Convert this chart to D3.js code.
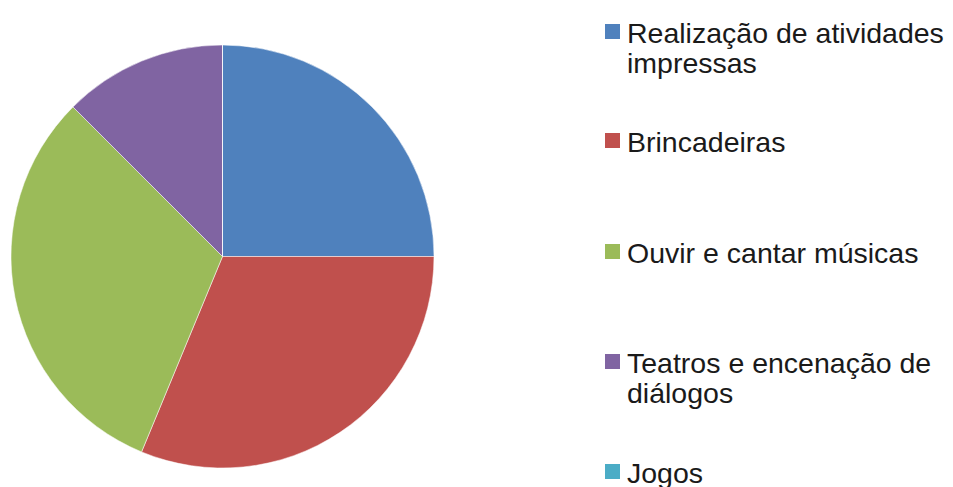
<!DOCTYPE html>
<html><head><meta charset="utf-8">
<script src="https://cdn.jsdelivr.net/npm/d3@7/dist/d3.min.js"></script>
<style>html,body{margin:0;padding:0;background:#fff;}</style>
</head><body>
<svg id="c" width="953" height="487"></svg>
<script>
const categories = ["Realização de atividades impressas", "Brincadeiras", "Ouvir e cantar músicas", "Teatros e encenação de diálogos", "Jogos"];
const legendLines = [["Realização de atividades", "impressas"], ["Brincadeiras"], ["Ouvir e cantar músicas"], ["Teatros e encenação de", "diálogos"], ["Jogos"]];
const values = [8, 10, 10, 4, 0];
const colors = ["#4F81BD", "#C0504D", "#9BBB59", "#8064A2", "#4BACC6"];

const svg = d3.select("#c");
const cx = 222.5, cy = 256.5, r = 211.5;
const pie = d3.pie().sort(null).value(d => d)(values);
const arc = d3.arc().innerRadius(0).outerRadius(r);
const color = d3.scaleOrdinal().domain(categories).range(colors);

svg.append("g").attr("transform", `translate(${cx},${cy})`)
  .selectAll("path").data(pie).join("path")
  .attr("d", arc)
  .attr("fill", (d, i) => color(categories[i]))
  .attr("stroke", "#fff").attr("stroke-opacity", 0.5).attr("stroke-width", 1);

const fs = 28.5;
const lineH = 30;
const baselines = [43, 152, 263, 373, 483];
const lg = svg.append("g");
categories.forEach((c, i) => {
  const g = lg.append("g");
  g.append("rect").attr("x", 605).attr("y", baselines[i] - 19).attr("width", 15).attr("height", 15)
    .attr("fill", color(c));
  const t = g.append("text").attr("x", 627).attr("y", baselines[i])
    .attr("font-family", "Liberation Sans, Arial, sans-serif").attr("font-size", fs).attr("fill", "#1a1a1a");
  legendLines[i].forEach((ln, j) => {
    t.append("tspan").attr("x", 627).attr("y", baselines[i] + j * lineH).text(ln);
  });
});
</script>
</body></html>
